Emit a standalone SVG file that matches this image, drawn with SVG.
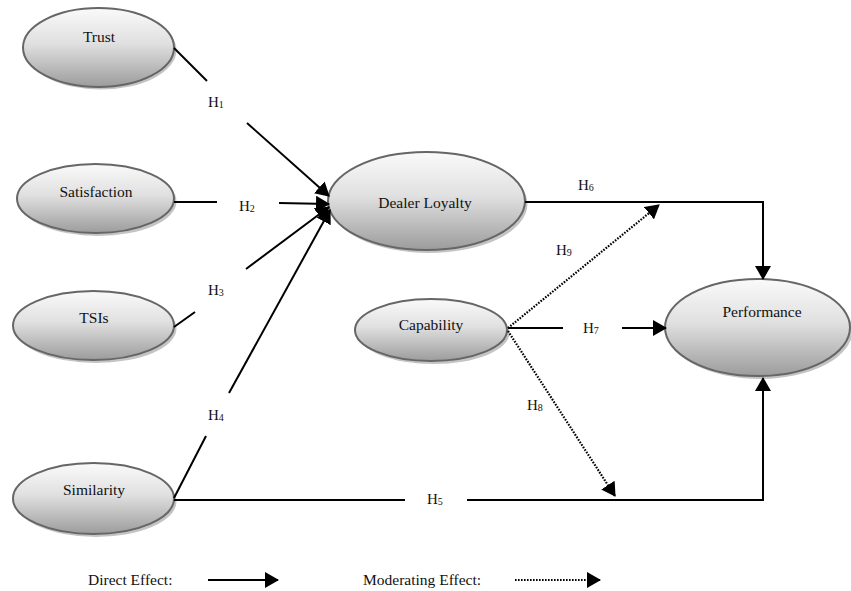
<svg xmlns="http://www.w3.org/2000/svg" width="851" height="591" viewBox="0 0 851 591">
<defs>
<linearGradient id="g" x1="0" y1="0" x2="0" y2="1">
<stop offset="0" stop-color="#fafafa"/>
<stop offset="0.45" stop-color="#e0e0e0"/>
<stop offset="1" stop-color="#9c9c9c"/>
</linearGradient>
<marker id="ah" viewBox="0 0 14 16" refX="13" refY="8" markerWidth="14" markerHeight="16" markerUnits="userSpaceOnUse" orient="auto">
<path d="M0,0 L14,8 L0,16 Z" fill="#000"/>
</marker>
<style>
.sh{fill:#c4c4c4;}
.el{fill:url(#g);stroke:#666;stroke-width:2;}
.t{font-family:"Liberation Serif","Times New Roman",serif;font-size:15.5px;fill:#111;text-anchor:middle;}
.h{font-family:"Liberation Serif","Times New Roman",serif;font-size:15px;fill:#111;}
.s{font-size:10px;}
.ln{stroke:#000;stroke-width:2;fill:none;}
.dt{stroke:#000;stroke-width:2.2;fill:none;stroke-dasharray:1.6 1.4;}
.ar{marker-end:url(#ah);}
</style>
</defs>
<g id="trust"><ellipse class="sh" cx="101" cy="50" rx="75.5" ry="39.5"/><ellipse class="el" cx="98.5" cy="47.5" rx="75.5" ry="39.5"/><text class="t" x="99" y="42">Trust</text></g>
<g id="satisfaction"><ellipse class="sh" cx="98" cy="201.5" rx="78.5" ry="34.5"/><ellipse class="el" cx="95.5" cy="198.5" rx="78.5" ry="34.5"/><text class="t" x="96" y="197">Satisfaction</text></g>
<g id="tsis"><ellipse class="sh" cx="96" cy="328.5" rx="80.5" ry="34.5"/><ellipse class="el" cx="93.5" cy="325.5" rx="80.5" ry="34.5"/><text class="t" x="94" y="323">TSIs</text></g>
<g id="similarity"><ellipse class="sh" cx="96" cy="501.5" rx="80.5" ry="35.5"/><ellipse class="el" cx="93.5" cy="498.5" rx="80.5" ry="35.5"/><text class="t" x="94" y="495">Similarity</text></g>
<g id="dealer-loyalty"><ellipse class="sh" cx="429" cy="204" rx="98.5" ry="49"/><ellipse class="el" cx="426.5" cy="201" rx="98.5" ry="49"/><text class="t" x="425" y="208">Dealer Loyalty</text></g>
<g id="capability"><ellipse class="sh" cx="433.5" cy="333" rx="76" ry="31"/><ellipse class="el" cx="431" cy="330" rx="76" ry="31"/><text class="t" x="431" y="330">Capability</text></g>
<g id="performance"><ellipse class="sh" cx="760" cy="330.5" rx="92.5" ry="48.5"/><ellipse class="el" cx="757.5" cy="327.5" rx="92.5" ry="48.5"/><text class="t" x="762" y="317">Performance</text></g>
<g id="connectors">
<line class="ln" x1="174" y1="48" x2="207" y2="81"/>
<line class="ln ar" x1="247" y1="123" x2="329" y2="196"/>
<line class="ln" x1="174" y1="202" x2="217" y2="202"/>
<line class="ln ar" x1="279" y1="203" x2="329" y2="204"/>
<line class="ln" x1="174" y1="327" x2="195" y2="312"/>
<line class="ln ar" x1="246" y1="269" x2="329" y2="207"/>
<line class="ln" x1="174" y1="498" x2="206" y2="436"/>
<line class="ln ar" x1="229" y1="393" x2="330" y2="210"/>
<line class="ln" x1="174" y1="500" x2="405" y2="500"/>
<path class="ln ar" d="M467,500 H763 V378"/>
<path class="ln ar" d="M525,202 H763 V279"/>
<line class="ln" x1="508" y1="328" x2="563" y2="328"/>
<line class="ln ar" x1="622" y1="328" x2="666" y2="328"/>
<line class="dt ar" x1="508" y1="328" x2="659" y2="205"/>
<line class="dt ar" x1="508" y1="331" x2="615" y2="496"/>
<text class="h" x="208" y="107">H<tspan class="s" dy="1">1</tspan></text>
<text class="h" x="239" y="211">H<tspan class="s" dy="1">2</tspan></text>
<text class="h" x="208" y="295">H<tspan class="s" dy="1">3</tspan></text>
<text class="h" x="208" y="420">H<tspan class="s" dy="1">4</tspan></text>
<text class="h" x="427" y="504">H<tspan class="s" dy="1">5</tspan></text>
<text class="h" x="578" y="190">H<tspan class="s" dy="1">6</tspan></text>
<text class="h" x="583" y="333">H<tspan class="s" dy="1">7</tspan></text>
<text class="h" x="527" y="410">H<tspan class="s" dy="1">8</tspan></text>
<text class="h" x="556" y="255">H<tspan class="s" dy="1">9</tspan></text>
</g>
<g id="legend">
<text class="h" x="88" y="585" style="font-size:15.5px">Direct Effect:</text>
<line class="ln ar" x1="208" y1="580" x2="278" y2="580"/>
<text class="h" x="363" y="585" style="font-size:15.5px">Moderating Effect:</text>
<line class="dt ar" x1="515" y1="580" x2="600" y2="580"/>
</g>
</svg>
